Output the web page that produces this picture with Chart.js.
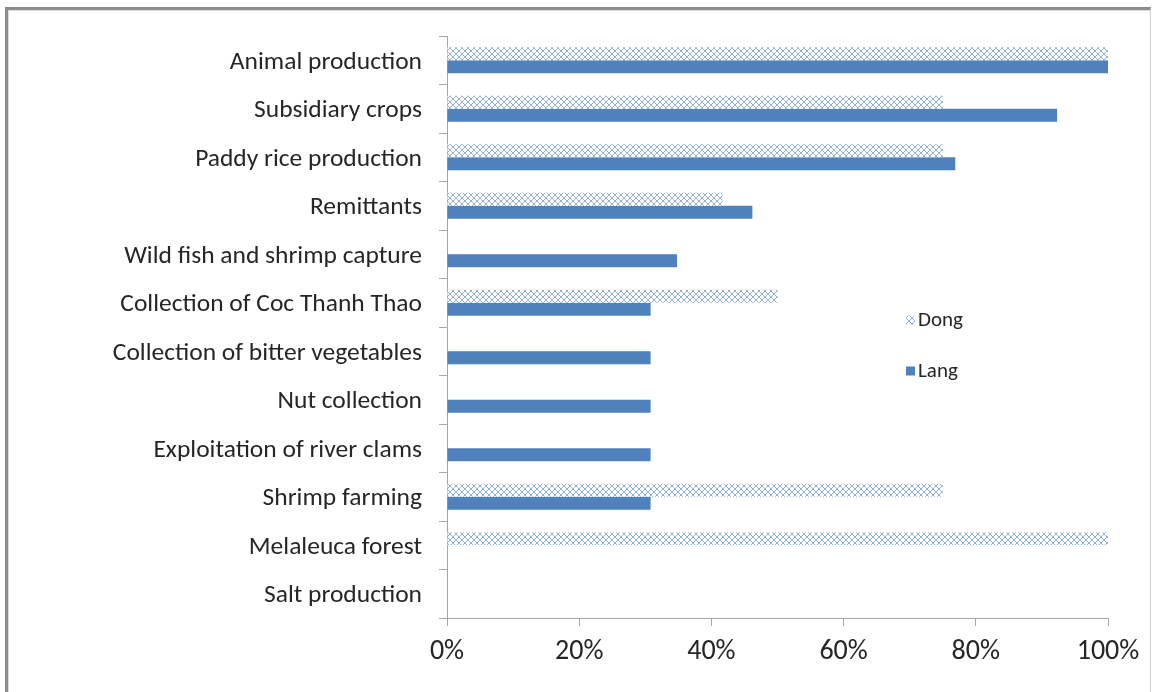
<!DOCTYPE html>
<html>
<head>
<meta charset="utf-8">
<script src="https://cdn.jsdelivr.net/npm/chart.js@4.4.1/dist/chart.umd.min.js"></script>
<style>
  html, body { margin: 0; padding: 0; background: #ffffff; }
  #wrap { position: relative; width: 1154px; height: 692px; overflow: hidden; }
  #frame {
    position: absolute; left: 5px; top: 7px; width: 1146px; height: 700px;
    border-left: 3px solid #8c8c8c; border-top: 3px solid #8c8c8c;
    border-right: 1px solid #d4d4d4; box-sizing: border-box; pointer-events: none;
  }
  #frame::after {
    content: ""; position: absolute; left: 0; top: 0; right: 0; bottom: 0;
    border-left: 1px solid #dcdcdc; border-top: 1px solid #dcdcdc;
  }
  canvas { position: absolute; left: 0; top: 0; }
</style>
</head>
<body>
<div id="wrap">
  <canvas id="chart" width="1154" height="692"></canvas>
  <div id="frame"></div>
</div>
<script>
// Livelihood activities, share of households (%)
const categories = [
  'Animal production',
  'Subsidiary crops',
  'Paddy rice production',
  'Remittants',
  'Wild fish and shrimp capture',
  'Collection of Coc Thanh Thao',
  'Collection of bitter vegetables',
  'Nut collection',
  'Exploitation of river clams',
  'Shrimp farming',
  'Melaleuca forest',
  'Salt production'
];
const dongValues = [100, 75, 75, 41.7, 0, 50, 0, 0, 0, 75, 100, 0];
const langValues = [100, 92.3, 76.9, 46.2, 34.8, 30.8, 30.8, 30.8, 30.8, 30.8, 0, 0];
const seriesNames = ['Dong', 'Lang'];
const xTicks = [0, 20, 40, 60, 80, 100];

const BLUE = '#4f81bd';
const FONT = 'Carlito, "Open Sans", sans-serif';

// Diamond-lattice fill used for the Dong series
function latticePattern() {
  const s = 6;
  const c = document.createElement('canvas');
  c.width = s; c.height = s;
  const g = c.getContext('2d');
  g.fillStyle = '#ffffff';
  g.fillRect(0, 0, s, s);
  g.fillStyle = 'rgba(79,129,189,0.62)';
  for (let i = 0; i < s; i++) {
    g.fillRect(i, i, 1, 1);
    if (s - 1 - i !== i) g.fillRect(s - 1 - i, i, 1, 1);
  }
  return g.createPattern(c, 'repeat');
}

const ctx = document.getElementById('chart').getContext('2d');
const dongFill = latticePattern();

// Stacked legend drawn inside the plot area
const sideLegend = {
  id: 'sideLegend',
  afterDraw(chart, args, opts) {
    const g = chart.ctx;
    g.save();
    g.font = opts.fontSize + 'px ' + FONT;
    g.textBaseline = 'middle';
    g.textAlign = 'left';
    chart.data.datasets.forEach((ds, i) => {
      const y = opts.y + i * opts.gap;
      g.fillStyle = ds.backgroundColor;
      g.fillRect(opts.x, y - opts.box / 2, opts.box, opts.box);
      g.fillStyle = '#262626';
      g.fillText(ds.label, opts.x + opts.box + 3, y + 1);
    });
    g.restore();
  }
};

new Chart(ctx, {
  type: 'bar',
  data: {
    labels: categories,
    datasets: [
      { label: seriesNames[0], data: dongValues, backgroundColor: dongFill, borderWidth: 0 },
      { label: seriesNames[1], data: langValues, backgroundColor: BLUE, borderWidth: 0 }
    ]
  },
  options: {
    indexAxis: 'y',
    responsive: false,
    animation: false,
    events: [],
    categoryPercentage: 0.54,
    barPercentage: 1.0,
    layout: { padding: { top: 36, right: 46, left: 0, bottom: 0 } },
    plugins: {
      legend: { display: false },
      tooltip: { enabled: false },
      sideLegend: { x: 906, y: 320, gap: 51, box: 9, fontSize: 21 }
    },
    scales: {
      x: {
        min: 0, max: 100,
        afterBuildTicks(scale) { scale.ticks = xTicks.map(v => ({ value: v })); },
        afterFit(scale) { scale.height = 74; },
        grid: { drawOnChartArea: false, drawTicks: true, tickLength: 8, color: '#a6a6a6' },
        border: { display: true, color: '#a6a6a6', width: 1 },
        ticks: {
          callback: v => v + '%',
          color: '#262626',
          font: { family: FONT, size: 28 },
          padding: 9,
          maxRotation: 0
        }
      },
      y: {
        afterFit(scale) { scale.width = 447; },
        grid: { drawOnChartArea: false, drawTicks: true, tickLength: 8, color: '#a6a6a6', offset: true },
        border: { display: true, color: '#a6a6a6', width: 1 },
        ticks: {
          color: '#262626',
          font: { family: FONT, size: 25.5 },
          padding: 17,
          labelOffset: 2,
          autoSkip: false
        }
      }
    }
  },
  plugins: [sideLegend]
});
</script>
</body>
</html>
